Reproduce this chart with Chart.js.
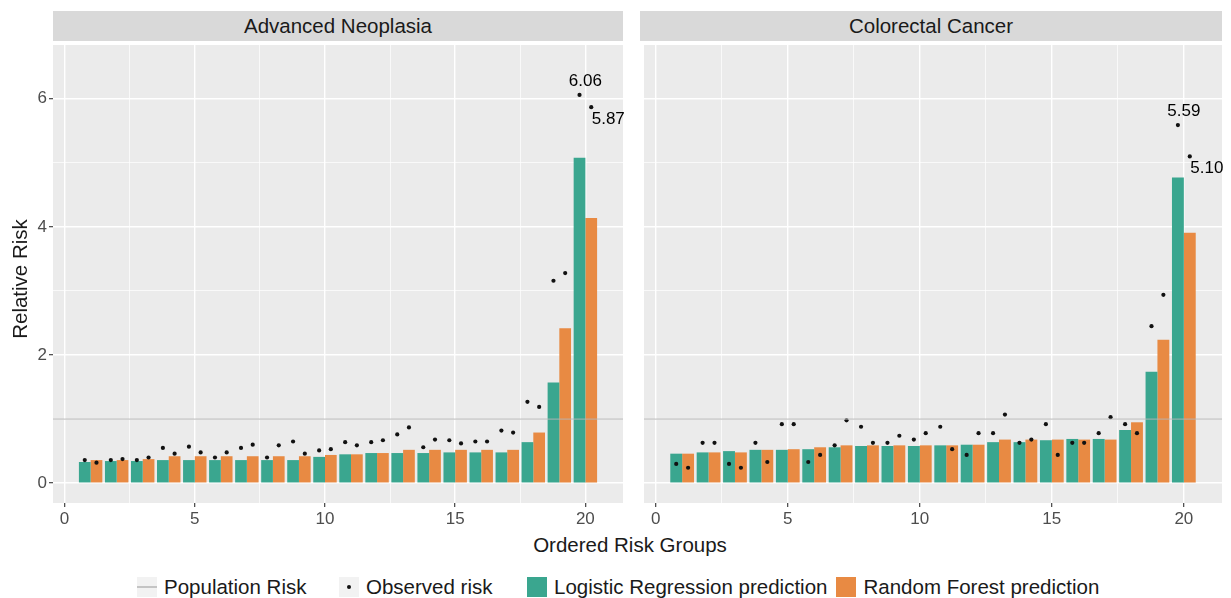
<!DOCTYPE html>
<html>
<head>
<meta charset="utf-8">
<script src="https://cdn.jsdelivr.net/npm/chart.js@4.4.0/dist/chart.umd.min.js"></script>
<style>
  body {
    margin: 0;
    width: 1231px;
    height: 598px;
    position: relative;
    overflow: hidden;
    background: #fff;
    font-family: "Liberation Sans", Arial, sans-serif;
    color: #1a1a1a;
  }
  canvas { position: absolute; top: 41px; }
  .strip {
    position: absolute;
    top: 11px;
    height: 30px;
    line-height: 30px;
    background: #d9d9d9;
    font-size: 20.5px;
    text-align: center;
  }
  .title { position: absolute; font-size: 20.5px; line-height: 24px; text-align: center; }
  .legend { position: absolute; top: 575px; display: flex; align-items: center; font-size: 20.5px; }
  .key { width: 20px; height: 20px; background: #f2f2f2; position: relative; margin-right: 7px; }
  .item { display: flex; align-items: center; margin-right: 9px; }
</style>
</head>
<body>
<div class="strip" style="left:53px; width:570px;">Advanced Neoplasia</div>
<div class="strip" style="left:640px; width:582px;">Colorectal Cancer</div>

<canvas id="leftChart" width="632" height="492" style="left:0;"></canvas>
<canvas id="rightChart" width="591" height="492" style="left:640px;"></canvas>

<div class="title" style="left:-80px; top:267px; width:200px; transform:rotate(-90deg);">Relative Risk</div>
<div class="title" style="left:430px; top:533px; width:400px;">Ordered Risk Groups</div>

<div class="legend" style="left:137px;">
  <div class="item"><span class="key"><i style="position:absolute; left:0; right:0; top:9px; height:1.5px; background:#c4c4c4;"></i></span>Population Risk</div>
</div>
<div class="legend" style="left:339px;">
  <div class="item"><span class="key"><i style="position:absolute; left:8px; top:8px; width:4px; height:4px; border-radius:2px; background:#111;"></i></span>Observed risk</div>
</div>
<div class="legend" style="left:527px;">
  <div class="item"><span class="key" style="background:#3aa68f;"></span>Logistic Regression prediction</div>
  <div class="item"><span class="key" style="background:#e88a43;"></span>Random Forest prediction</div>
</div>

<script>
const groups = [1, 2, 3, 4, 5, 6, 7, 8, 9, 10, 11, 12, 13, 14, 15, 16, 17, 18, 19, 20];
const xTicks = [0, 2.5, 5, 7.5, 10, 12.5, 15, 17.5, 20];
const yTicks = [0, 1, 2, 3, 4, 5, 6];
const populationRisk = 1;

// Advanced Neoplasia
const anLogistic = [0.33, 0.345, 0.345, 0.36, 0.36, 0.36, 0.36, 0.36, 0.36, 0.41, 0.45, 0.47, 0.47, 0.47, 0.48, 0.48, 0.48, 0.64, 1.57, 5.08];
const anForest = [0.36, 0.36, 0.375, 0.42, 0.42, 0.42, 0.42, 0.42, 0.42, 0.44, 0.45, 0.47, 0.52, 0.52, 0.52, 0.52, 0.52, 0.79, 2.42, 4.14];
const anObservedLogistic = [0.36, 0.36, 0.36, 0.55, 0.57, 0.40, 0.55, 0.40, 0.65, 0.51, 0.64, 0.64, 0.76, 0.56, 0.67, 0.65, 0.82, 1.27, 3.16, 6.06];
const anObservedForest = [0.32, 0.375, 0.40, 0.46, 0.48, 0.48, 0.60, 0.59, 0.46, 0.53, 0.59, 0.67, 0.87, 0.68, 0.62, 0.65, 0.79, 1.19, 3.28, 5.87];

// Colorectal Cancer
const crcLogistic = [0.46, 0.48, 0.50, 0.52, 0.52, 0.53, 0.56, 0.58, 0.58, 0.58, 0.59, 0.60, 0.64, 0.64, 0.67, 0.69, 0.69, 0.83, 1.74, 4.77];
const crcForest = [0.46, 0.48, 0.48, 0.52, 0.53, 0.56, 0.59, 0.59, 0.59, 0.59, 0.59, 0.60, 0.68, 0.68, 0.68, 0.68, 0.68, 0.95, 2.24, 3.91];
const crcObservedLogistic = [0.30, 0.63, 0.30, 0.63, 0.92, 0.33, 0.59, 0.88, 0.63, 0.68, 0.88, 0.44, 0.78, 0.63, 0.92, 0.63, 0.78, 0.92, 2.45, 5.59];
const crcObservedForest = [0.24, 0.63, 0.24, 0.33, 0.92, 0.44, 0.98, 0.63, 0.74, 0.78, 0.53, 0.78, 1.07, 0.68, 0.44, 0.63, 1.03, 0.78, 2.94, 5.10];

const teal = "#3aa68f";
const orange = "#e88a43";
const dodgeWidth = 0.9; // same as categoryPercentage, bars side by side

Chart.defaults.font.family = '"Liberation Sans", Arial, sans-serif';

const panelBackground = {
  id: "panelBackground",
  beforeDraw(chart) {
    const { ctx, chartArea } = chart;
    ctx.save();
    ctx.fillStyle = "#ebebeb";
    ctx.fillRect(chartArea.left, chartArea.top, chartArea.width, chartArea.height);
    ctx.restore();
  },
};

const populationLine = {
  id: "populationLine",
  afterDatasetsDraw(chart) {
    const { ctx, chartArea } = chart;
    const y = chart.scales.y.getPixelForValue(populationRisk);
    ctx.save();
    ctx.strokeStyle = "rgba(180, 180, 180, 0.75)";
    ctx.lineWidth = 1.3;
    ctx.beginPath();
    ctx.moveTo(chartArea.left, y);
    ctx.lineTo(chartArea.right, y);
    ctx.stroke();
    ctx.restore();
  },
};

// value labels on the last observed points
const endLabels = {
  id: "endLabels",
  afterDatasetsDraw(chart) {
    const ctx = chart.ctx;
    chart.data.datasets.forEach((ds, i) => {
      if (!ds.endLabel) return;
      const meta = chart.getDatasetMeta(i);
      const last = meta.data.length - 1;
      const pt = meta.data[last];
      const text = ds.data[last].y.toFixed(2);
      ctx.save();
      ctx.fillStyle = "#000";
      ctx.font = '17px "Liberation Sans", Arial, sans-serif';
      ctx.textBaseline = "middle";
      if (ds.endLabel === "above") {
        ctx.textAlign = "center";
        ctx.fillText(text, chart.scales.x.getPixelForValue(groups[last]), pt.y - 14);
      } else {
        ctx.textAlign = "left";
        ctx.fillText(text, pt.x + 0.5, pt.y + 12);
      }
      ctx.restore();
    });
  },
};

function makePanel(canvasId, logistic, forest, obsLogistic, obsForest, showY) {
  const shift = dodgeWidth / 4;
  const cfg = {
    type: "bar",
    data: {
      datasets: [
        {
          type: "scatter",
          label: "Observed risk",
          data: groups.map((g, i) => ({ x: g - shift, y: obsLogistic[i] })),
          backgroundColor: "#111",
          borderWidth: 0,
          pointRadius: 2.1,
          order: 0,
          endLabel: "above",
        },
        {
          type: "scatter",
          label: "Observed risk",
          data: groups.map((g, i) => ({ x: g + shift, y: obsForest[i] })),
          backgroundColor: "#111",
          borderWidth: 0,
          pointRadius: 2.1,
          order: 0,
          endLabel: "below",
        },
        {
          label: "Logistic Regression prediction",
          data: groups.map((g, i) => ({ x: g, y: logistic[i] })),
          backgroundColor: teal,
          order: 1,
        },
        {
          label: "Random Forest prediction",
          data: groups.map((g, i) => ({ x: g, y: forest[i] })),
          backgroundColor: orange,
          order: 1,
        },
      ],
    },
    options: {
      responsive: false,
      animation: false,
      devicePixelRatio: 1,
      categoryPercentage: dodgeWidth,
      barPercentage: 1,
      layout: { padding: { left: 0, right: 9, top: 0, bottom: 0 } },
      plugins: { legend: { display: false }, tooltip: { enabled: false } },
      scales: {
        x: {
          type: "linear",
          min: -0.445,
          max: 21.445,
          offset: false,
          afterBuildTicks: (s) => { s.ticks = xTicks.map((v) => ({ value: v })); },
          afterFit: (s) => { s.height = 30; s.paddingLeft = 0; s.paddingRight = 0; },
          border: { display: false },
          grid: {
            offset: false,
            color: "#fff",
            lineWidth: (c) => (c.tick && c.tick.value % 5 === 0 ? 1.4 : 0.7),
            tickLength: 4,
            tickColor: (c) => (c.tick && c.tick.value % 5 === 0 ? "#333" : "rgba(0,0,0,0)"),
            tickWidth: 1.1,
          },
          ticks: {
            autoSkip: false,
            maxRotation: 0,
            padding: 2,
            color: "#4d4d4d",
            font: { size: 17 },
            callback: (v) => (v % 5 === 0 ? v : ""),
          },
        },
        y: {
          min: -0.31,
          max: 6.84,
          afterBuildTicks: (s) => { s.ticks = yTicks.map((v) => ({ value: v })); },
          afterFit: (s) => { s.width = showY ? 53 : 0; s.paddingTop = 0; s.paddingBottom = 0; },
          border: { display: false },
          grid: {
            color: "#fff",
            lineWidth: (c) => (c.tick && c.tick.value % 2 === 0 ? 1.4 : 0.7),
            drawTicks: showY,
            tickLength: showY ? 4 : 0,
            tickColor: (c) => (c.tick && c.tick.value % 2 === 0 ? "#333" : "rgba(0,0,0,0)"),
            tickWidth: 1.1,
          },
          ticks: {
            display: showY,
            padding: 2,
            color: "#4d4d4d",
            font: { size: 17 },
            callback: (v) => (v % 2 === 0 ? v : ""),
          },
        },
      },
    },
    plugins: [panelBackground, populationLine, endLabels],
  };
  new Chart(document.getElementById(canvasId), cfg);
}

makePanel("leftChart", anLogistic, anForest, anObservedLogistic, anObservedForest, true);
makePanel("rightChart", crcLogistic, crcForest, crcObservedLogistic, crcObservedForest, false);
</script>
</body>
</html>
